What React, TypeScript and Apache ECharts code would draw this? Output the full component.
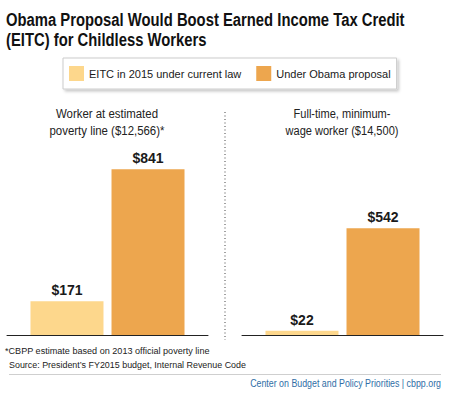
import React, { useEffect, useRef } from "react";
import * as echarts from "echarts";

const categories = [
  "Worker at estimated\npoverty line ($12,566)*",
  "Full-time, minimum-\nwage worker ($14,500)",
];
const seriesNames = ["EITC in 2015 under current law", "Under Obama proposal"];
const currentLaw = [171, 22];
const obamaProposal = [841, 542];
const titleLines = ["Obama Proposal Would Boost Earned Income Tax Credit", "(EITC) for Childless Workers"];
const footnote = "*CBPP estimate based on 2013 official poverty line";
const sourceText = "Source: President\u2019s FY2015 budget, Internal Revenue Code";
const creditText = "Center on Budget and Policy Priorities | cbpp.org";

const SANS = '"Liberation Sans", Arial, sans-serif';
const LIGHT = "#FDD78C";
const DARK = "#EDA64E";

let measureCtx: CanvasRenderingContext2D | null = null;
function measure(text: string, font: string): number {
  if (!measureCtx) measureCtx = document.createElement("canvas").getContext("2d");
  if (!measureCtx) return text.length * 6;
  measureCtx.font = font;
  return measureCtx.measureText(text).width;
}

function fitText(text: string, font: string, target: number) {
  const w = measure(text, font);
  return w > 0 ? target / w : 1;
}

export default function App() {
  const ref = useRef<HTMLDivElement>(null);
  useEffect(() => {
    if (!ref.current) return;
    const chart = echarts.init(ref.current, undefined, { renderer: "svg" });
    const gridLefts = [7, 242];
    const centers = [107, 342];
    const grids = gridLefts.map((l) => ({ left: l, width: 201, top: 138, height: 197 }));
    const xAxes = categories.map((c, i) => ({
      type: "category",
      gridIndex: i,
      data: [c],
      axisLabel: { show: false },
      axisTick: { show: false },
      axisLine: { lineStyle: { color: "#222", width: 1 } },
    }));
    const yAxes = categories.map((_, i) => ({
      type: "value",
      gridIndex: i,
      min: 0,
      max: 1000,
      show: false,
      splitLine: { show: false },
    }));
    const label = {
      show: true,
      position: "top",
      distance: 4,
      formatter: (p: any) => "$" + p.value,
      fontFamily: SANS,
      fontWeight: "bold",
      fontSize: 14,
      color: "#1a1a1a",
    };
    const series: any[] = [];
    categories.forEach((_, i) => {
      series.push({
        type: "bar",
        name: seriesNames[0],
        xAxisIndex: i,
        yAxisIndex: i,
        data: [currentLaw[i]],
        barWidth: 73,
        barGap: "11%",
        itemStyle: { color: LIGHT },
        label,
      });
      series.push({
        type: "bar",
        name: seriesNames[1],
        xAxisIndex: i,
        yAxisIndex: i,
        data: [obamaProposal[i]],
        barWidth: 73,
        barGap: "11%",
        itemStyle: { color: DARK },
        label,
      });
    });

    const titleFont = `bold 18.5px ${SANS}`;
    const titleScale = fitText(titleLines[0], titleFont, 399);
    const subFont = `13.5px ${SANS}`;
    const subTargets = [115, 113];
    const subGraphics: any[] = [];
    categories.forEach((c, i) => {
      const lines = c.split("\n");
      const widest = Math.max(...lines.map((l) => measure(l, subFont)));
      const sc = subTargets[i] / widest;
      lines.forEach((l, j) => {
        subGraphics.push({
          type: "text",
          x: centers[i],
          y: 114 + j * 17,
          scaleX: sc,
          style: {
            text: l,
            font: subFont,
            fill: "#222",
            textAlign: "center",
            textVerticalAlign: "middle",
          },
        });
      });
    });
    const noteFont = `9.5px ${SANS}`;
    const creditFont = `11px ${SANS}`;

    const graphic: any[] = [
      ...titleLines.map((t, i) => ({
        type: "text",
        x: 6,
        y: 19.5 + i * 20.3,
        scaleX: titleScale,
        style: {
          text: t,
          font: titleFont,
          fill: "#111",
          textVerticalAlign: "middle",
        },
      })),
      ...subGraphics,
      {
        type: "line",
        shape: { x1: 225, y1: 112, x2: 225, y2: 340 },
        style: { stroke: "#444", lineWidth: 1, lineDash: [1, 2.5] },
      },
      {
        type: "text",
        x: 5,
        y: 351,
        scaleX: fitText(footnote, noteFont, 205),
        style: { text: footnote, font: noteFont, fill: "#222", textVerticalAlign: "middle" },
      },
      {
        type: "text",
        x: 9,
        y: 364.5,
        scaleX: fitText(sourceText, noteFont, 237),
        style: { text: sourceText, font: noteFont, fill: "#222", textVerticalAlign: "middle" },
      },
      {
        type: "line",
        shape: { x1: 9, y1: 374.5, x2: 441, y2: 374.5 },
        style: { stroke: "#cfcfcf", lineWidth: 1 },
      },
      {
        type: "text",
        x: 441,
        y: 383,
        scaleX: fitText(creditText, creditFont, 191),
        style: {
          text: creditText,
          font: creditFont,
          fill: "#2F6EA6",
          textAlign: "right",
          textVerticalAlign: "middle",
        },
      },
    ];
    chart.setOption({
      animation: false,
      grid: grids,
      xAxis: xAxes,
      yAxis: yAxes,
      series,
      legend: {
        data: seriesNames,
        orient: "horizontal",
        left: 63,
        top: 58,
        width: 380,
        padding: [8, 6, 8, 6],
        itemWidth: 15,
        itemHeight: 15,
        itemGap: 15,
        icon: "rect",
        backgroundColor: "#fff",
        borderColor: "#ccc",
        borderWidth: 1,
        shadowBlur: 3,
        shadowColor: "rgba(0,0,0,0.22)",
        shadowOffsetX: 2,
        shadowOffsetY: 2,
        textStyle: { fontFamily: SANS, fontSize: 11, color: "#1a1a1a" },
        selectedMode: false,
      },
      graphic,
    });
    return () => chart.dispose();
  }, []);
  return <div ref={ref} style={{ width: 450, height: 395, position: "absolute", left: 0, top: 0 }} />;
}
